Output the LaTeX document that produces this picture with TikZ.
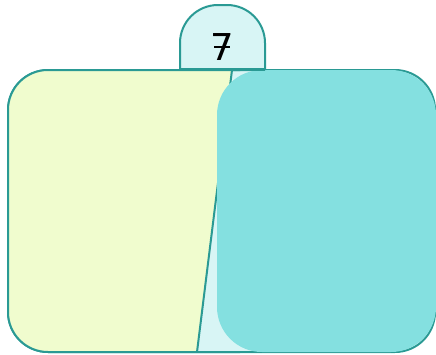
\documentclass[tikz,border=0pt]{standalone}
\usepackage{fontspec}
\setmainfont{DejaVu Sans}
\usetikzlibrary{positioning,calc}
\definecolor{rimteal}{RGB}{42,154,148}
\definecolor{paleyel}{RGB}{240,252,206}
\definecolor{palecyan}{RGB}{216,245,245}
\definecolor{midteal}{RGB}{132,224,224}
\tikzset{
  rim/.style={draw=rimteal, line width=2pt},
  tabbox/.style={rim, fill=palecyan},
  digit/.style={font=\fontsize{37pt}{37pt}\selectfont, text=black, inner sep=0pt},
}
\begin{document}
\begin{tikzpicture}[x=1pt, y=-1pt]
  \useasboundingbox (0,0) rectangle (436,354);
  % outer frame
  \draw[rim, fill=palecyan, rounded corners=40] (8,70) rectangle (435,352);
  % left part
  \begin{scope}
    \clip[rounded corners=40] (8,70) rectangle (435,352);
    \fill[paleyel] (0,70) -- (232,70) -- (197,352) -- (0,352) -- cycle;
  \end{scope}
  \coordinate (cuttop) at (232,70);
  \coordinate (cutbot) at (197,352);
  \draw[rim] (cuttop) -- (cutbot);
  \draw[rim, rounded corners=40] (240,70) -- (8,70) -- (8,352) -- (240,352);
  % right block
  \fill[midteal, rounded corners=45] (217,70) rectangle (436,352);
  % top tab
  \draw[tabbox, rounded corners=38] (180,70) -- (180,5) -- (265,5) -- (265,70);
  \draw[draw=rimteal, line width=3pt] (180,69) -- (265,69);
  \node[digit] (seven) at (222,47) {7};
  \draw[line width=2.5pt] ($(seven.center)+(-8,0)$) -- ($(seven.center)+(8,0)$);
\end{tikzpicture}
\end{document}
